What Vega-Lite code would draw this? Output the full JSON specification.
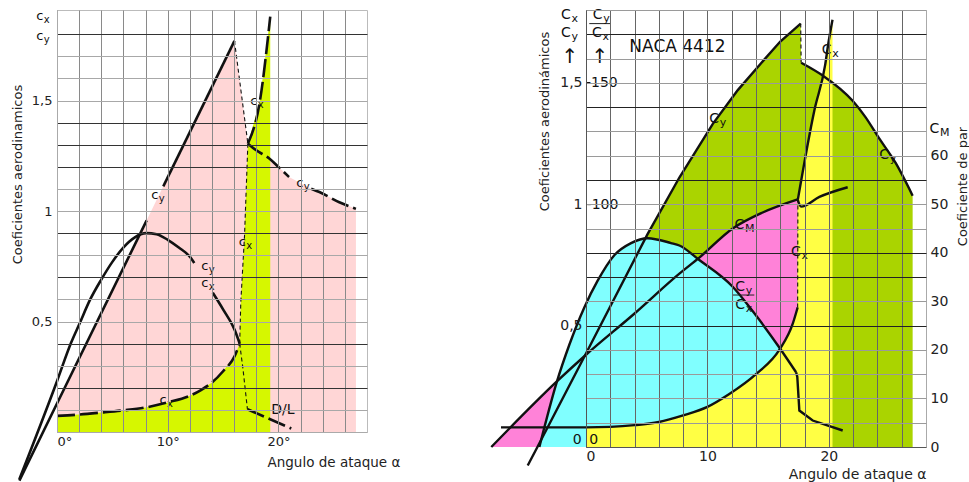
{
"$schema":"https://vega.github.io/schema/vega-lite/v6.json",
"padding":{"left":11,"top":7,"right":5,"bottom":2},
"bounds":"flush",
"spacing":219,
"background":"white",
"config":{
 "font":"DejaVu Sans",
 "axis":{"labelFont":"DejaVu Sans","titleFont":"DejaVu Sans","labelFontSize":14,"titleFontSize":13,"titleFontWeight":"normal","labelColor":"#222","titleColor":"#222","ticks":false},
 "text":{"font":"DejaVu Sans","color":"#111"}
},
"datasets":{
 "L":[
  {"q":"cy","seg":"rise1","a":-3.4,"v":-0.22},
  {"q":"cy","seg":"rise1","a":0,"v":0.129},
  {"q":"cy","seg":"rise1","a":8.1,"v":0.958},
  {"q":"cy","seg":"rise2","a":9.6,"v":1.112},
  {"q":"cy","seg":"rise2","a":16.03,"v":1.77},
  {"q":"cy","seg":"drop","a":16.03,"v":1.77},
  {"q":"cy","seg":"drop","a":17.24,"v":1.305},
  {"q":"cy","seg":"post1","a":17.24,"v":1.305},
  {"q":"cy","seg":"post1","a":18,"v":1.275},
  {"q":"cy","seg":"post1","a":19.2,"v":1.237},
  {"q":"cy","seg":"post1","a":20,"v":1.2},
  {"q":"cy","seg":"post1","a":20.96,"v":1.154},
  {"q":"cy","seg":"post2","a":22.96,"v":1.101},
  {"q":"cy","seg":"post2","a":23.7,"v":1.086},
  {"q":"cy","seg":"post2","a":25.5,"v":1.04},
  {"q":"cy","seg":"post2","a":27.0,"v":1.01},
  {"q":"cx","seg":"low","a":0,"v":0.073},
  {"q":"cx","seg":"low","a":2,"v":0.079},
  {"q":"cx","seg":"low","a":4,"v":0.088},
  {"q":"cx","seg":"low","a":6,"v":0.098},
  {"q":"cx","seg":"low","a":8,"v":0.111},
  {"q":"cx","seg":"low","a":10,"v":0.134},
  {"q":"cx","seg":"low","a":12,"v":0.164},
  {"q":"cx","seg":"low","a":13,"v":0.19},
  {"q":"cx","seg":"low","a":14,"v":0.224},
  {"q":"cx","seg":"low","a":15,"v":0.275},
  {"q":"cx","seg":"low","a":16.06,"v":0.345},
  {"q":"cx","seg":"low","a":16.5,"v":0.4},
  {"q":"cx","seg":"mid","a":16.5,"v":0.4},
  {"q":"cx","seg":"mid","a":16.6,"v":0.587},
  {"q":"cx","seg":"mid","a":16.94,"v":0.89},
  {"q":"cx","seg":"mid","a":17.24,"v":1.305},
  {"q":"cx","seg":"high","a":17.24,"v":1.305},
  {"q":"cx","seg":"high","a":18.3,"v":1.49},
  {"q":"cx","seg":"high","a":19.26,"v":1.88},
  {"q":"ld","seg":"main1","a":-3.4,"v":-0.214},
  {"q":"ld","seg":"main1","a":0,"v":0.23},
  {"q":"ld","seg":"main1","a":1.28,"v":0.405},
  {"q":"ld","seg":"main1","a":2.03,"v":0.49},
  {"q":"ld","seg":"main1","a":3,"v":0.6},
  {"q":"ld","seg":"main1","a":4,"v":0.69},
  {"q":"ld","seg":"main1","a":5,"v":0.77},
  {"q":"ld","seg":"main1","a":6.03,"v":0.837},
  {"q":"ld","seg":"main1","a":7,"v":0.88},
  {"q":"ld","seg":"main1","a":8.06,"v":0.9},
  {"q":"ld","seg":"main1","a":9,"v":0.895},
  {"q":"ld","seg":"main1","a":10,"v":0.87},
  {"q":"ld","seg":"main1","a":11,"v":0.835},
  {"q":"ld","seg":"main1","a":12.06,"v":0.79},
  {"q":"ld","seg":"main1","a":12.4,"v":0.765},
  {"q":"ld","seg":"main2","a":14.07,"v":0.63},
  {"q":"ld","seg":"main2","a":15,"v":0.555},
  {"q":"ld","seg":"main2","a":16.06,"v":0.46},
  {"q":"ld","seg":"main2","a":16.5,"v":0.4},
  {"q":"ld","seg":"mid","a":16.5,"v":0.4},
  {"q":"ld","seg":"mid","a":16.8,"v":0.285},
  {"q":"ld","seg":"mid","a":17.2,"v":0.103},
  {"q":"ld","seg":"dl","a":17.2,"v":0.103},
  {"q":"ld","seg":"dl","a":21.16,"v":0.016}
 ],
 "LL":[
  {"a":-1.88,"v":1.865,"t":"c","s":"x"},
  {"a":-1.88,"v":1.774,"t":"c","s":"y"},
  {"a":8.51,"v":1.056,"t":"c","s":"y"},
  {"a":17.45,"v":1.479,"t":"c","s":"x"},
  {"a":21.6,"v":1.109,"t":"c","s":"y"},
  {"a":16.42,"v":0.841,"t":"c","s":"x"},
  {"a":13.03,"v":0.731,"t":"c","s":"y"},
  {"a":13.03,"v":0.655,"t":"c","s":"x"},
  {"a":9.26,"v":0.126,"t":"c","s":"x"}
 ],
 "LN":[{"a":19.35,"v":0.081,"t":"D/L"}],
 "R":[
  {"q":"cy","seg":"rise","a":-4.8,"v":-0.076},
  {"q":"cy","seg":"rise","a":-4.0,"v":0},
  {"q":"cy","seg":"rise","a":0,"v":0.385},
  {"q":"cy","seg":"rise","a":5.07,"v":0.877},
  {"q":"cy","seg":"rise","a":7.69,"v":1.11},
  {"q":"cy","seg":"rise","a":10.43,"v":1.33},
  {"q":"cy","seg":"rise","a":12.5,"v":1.47},
  {"q":"cy","seg":"rise","a":14.4,"v":1.58},
  {"q":"cy","seg":"rise","a":16,"v":1.67},
  {"q":"cy","seg":"rise","a":17.68,"v":1.744},
  {"q":"cy","seg":"drop","a":17.68,"v":1.744},
  {"q":"cy","seg":"drop","a":17.72,"v":1.583},
  {"q":"cy","seg":"post","a":17.72,"v":1.583},
  {"q":"cy","seg":"post","a":19.5,"v":1.53},
  {"q":"cy","seg":"post","a":21.96,"v":1.426},
  {"q":"cy","seg":"post","a":23,"v":1.36},
  {"q":"cy","seg":"post","a":24.16,"v":1.27},
  {"q":"cy","seg":"post","a":25.5,"v":1.17},
  {"q":"cy","seg":"post","a":26.9,"v":1.035},
  {"q":"cx","seg":"main","a":-7.0,"v":0.081},
  {"q":"cx","seg":"main","a":0,"v":0.081},
  {"q":"cx","seg":"main","a":2,"v":0.083},
  {"q":"cx","seg":"main","a":4,"v":0.09},
  {"q":"cx","seg":"main","a":6,"v":0.103},
  {"q":"cx","seg":"main","a":8,"v":0.13},
  {"q":"cx","seg":"main","a":10,"v":0.165},
  {"q":"cx","seg":"main","a":11.8,"v":0.218},
  {"q":"cx","seg":"main","a":14,"v":0.3},
  {"q":"cx","seg":"main","a":15.92,"v":0.4},
  {"q":"cx","seg":"main","a":17.02,"v":0.507},
  {"q":"cx","seg":"main","a":17.43,"v":0.575},
  {"q":"cx","seg":"vert","a":17.43,"v":0.575},
  {"q":"cx","seg":"vert","a":17.45,"v":1.02},
  {"q":"cx","seg":"high","a":17.45,"v":1.02},
  {"q":"cx","seg":"high","a":18.8,"v":1.385},
  {"q":"cx","seg":"high","a":19.7,"v":1.575},
  {"q":"cx","seg":"high","a":19.95,"v":1.66},
  {"q":"cx","seg":"high","a":20.3,"v":1.76},
  {"q":"ld","seg":"main","a":-3.84,"v":0},
  {"q":"ld","seg":"main","a":-2.39,"v":0.27},
  {"q":"ld","seg":"main","a":-1.38,"v":0.42},
  {"q":"ld","seg":"main","a":-0.14,"v":0.575},
  {"q":"ld","seg":"main","a":0.96,"v":0.685},
  {"q":"ld","seg":"main","a":2.33,"v":0.79},
  {"q":"ld","seg":"main","a":3.71,"v":0.84},
  {"q":"ld","seg":"main","a":5.08,"v":0.86},
  {"q":"ld","seg":"main","a":7.0,"v":0.84},
  {"q":"ld","seg":"main","a":7.69,"v":0.83},
  {"q":"ld","seg":"main","a":9.33,"v":0.77},
  {"q":"ld","seg":"main","a":12.08,"v":0.66},
  {"q":"ld","seg":"main","a":13.72,"v":0.56},
  {"q":"ld","seg":"main","a":15.92,"v":0.41},
  {"q":"ld","seg":"main","a":17.3,"v":0.308},
  {"q":"ld","seg":"tail","a":17.3,"v":0.308},
  {"q":"ld","seg":"tail","a":17.4,"v":0.29},
  {"q":"ld","seg":"tail","a":17.57,"v":0.15},
  {"q":"ld","seg":"tail","a":18.67,"v":0.109},
  {"q":"ld","seg":"tail","a":21.14,"v":0.068}
 ],
 "M":[
  {"seg":"pre","a":-7.8,"cm":0},
  {"seg":"pre","a":-2.4,"cm":13.5},
  {"seg":"pre","a":0,"cm":19},
  {"seg":"pre","a":4,"cm":27.5},
  {"seg":"pre","a":7.69,"cm":35.7},
  {"seg":"pre","a":9.33,"cm":39},
  {"seg":"pre","a":12.08,"cm":45},
  {"seg":"pre","a":14.55,"cm":48.3},
  {"seg":"pre","a":17.43,"cm":51},
  {"seg":"post","a":17.43,"cm":51},
  {"seg":"post","a":17.71,"cm":49.5},
  {"seg":"post","a":19.22,"cm":51.5},
  {"seg":"post","a":21.55,"cm":53.5}
 ],
 "RL":[
  {"a":-2.06,"v":1.762,"t":"C","s":"x"},
  {"a":-2.06,"v":1.689,"t":"C","s":"y"},
  {"a":0.55,"v":1.762,"t":"C","s":"y"},
  {"a":0.49,"v":1.689,"t":"C","s":"x"},
  {"a":10.16,"v":1.333,"t":"C","s":"y"},
  {"a":19.41,"v":1.62,"t":"C","s":"x"},
  {"a":24.16,"v":1.186,"t":"C","s":"y"},
  {"a":12.22,"v":0.898,"t":"C","s":"M"},
  {"a":16.89,"v":0.788,"t":"C","s":"x"},
  {"a":12.3,"v":0.644,"t":"C","s":"y"},
  {"a":12.3,"v":0.569,"t":"C","s":"x"},
  {"a":28.28,"v":1.295,"t":"C","s":"M"}
 ],
 "RN":[
  {"a":3.57,"v":1.625,"t":"NACA 4412","k":"name"},
  {"a":0.0,"v":1.484,"t":"-150","k":"scale"},
  {"a":0.05,"v":0.98,"t":"-100","k":"scale"},
  {"a":0.27,"v":0.013,"t":"0","k":"scale"},
  {"a":-0.36,"v":0.013,"t":"0","k":"scaleL"},
  {"a":-1.32,"v":1.58,"t":"↑","k":"arrow"},
  {"a":1.15,"v":1.58,"t":"↑","k":"arrow"}
 ],
 "RB":[
  {"a":0.27,"a2":1.98,"v":1.744},
  {"a":12.08,"a2":13.86,"v":0.626}
 ]
},
"hconcat":[
 {
  "width":310,"height":422,
  "view":{"stroke":"#bbb"},
  "encoding":{
   "x":{"field":"a","type":"quantitative","scale":{"domain":[0,28],"nice":false,"zero":false},
    "axis":{"values":[0,2,4,6,8,10,12,14,16,18,20,22,24,26],"labelExpr":"datum.value % 10 === 0 ? datum.value + '°' : ''","grid":true,"gridColor":"#8a8a8a","zindex":1,"domainColor":"#aaa","labelPadding":3,"labelFontSize":13,"title":"Angulo de ataque α","titleFontSize":13.5,"titleX":210,"titleY":30,"titleAlign":"left","titleBaseline":"middle"}},
   "y":{"field":"v","type":"quantitative","stack":null,"scale":{"domain":[0,1.91],"nice":false,"zero":false},
    "axis":{"values":[0.1,0.2,0.3,0.4,0.5,0.6,0.7,0.8,0.9,1,1.1,1.2,1.3,1.4,1.5,1.6,1.7,1.8],"labelExpr":"datum.value === 0.5 ? '0,5' : datum.value === 1 ? '1' : datum.value === 1.5 ? '1,5' : ''","grid":true,"gridColor":{"condition":{"test":"indexof([1.8,1.4,1.3,1.2,0.9,0.7,0.4,0.2], datum.value) >= 0","value":"#333"},"value":"#a8a8a8"},"zindex":1,"domainColor":"#aaa","labelPadding":5,"labelFontSize":13,"title":"Coeficientes aerodinamicos","titleX":-39.5,"titleY":164,"titleAngle":270,"titleAlign":"center","titleBaseline":"middle"}}
  },
  "layer":[
   {"data":{"name":"L"},"transform":[{"filter":"datum.q == 'cy' && datum.a >= 0"}],"mark":{"type":"area","color":"#ffd6d6"}},
   {"data":{"name":"L"},"transform":[{"filter":"datum.q == 'cx'"}],"mark":{"type":"area","color":"#d6f700"}},
   {"data":{"name":"L"},"transform":[{"filter":"indexof(['rise1','rise2'], datum.seg) >= 0"}],"mark":{"type":"line","color":"#111","strokeWidth":2.6},"encoding":{"detail":[{"field":"q"},{"field":"seg"}]}},
   {"data":{"name":"L"},"transform":[{"filter":"indexof(['main1','main2'], datum.seg) >= 0"}],"mark":{"type":"line","color":"#111","strokeWidth":2.6,"interpolate":"monotone"},"encoding":{"detail":[{"field":"q"},{"field":"seg"}]}},
   {"data":{"name":"L"},"transform":[{"filter":"indexof(['post1','post2','low','high'], datum.seg) >= 0"}],"mark":{"type":"line","color":"#111","strokeWidth":2.6,"strokeDash":[18,5],"interpolate":"monotone"},"encoding":{"detail":[{"field":"q"},{"field":"seg"}]}},
   {"data":{"name":"L"},"transform":[{"filter":"datum.seg == 'dl'"}],"mark":{"type":"line","color":"#111","strokeWidth":2.6,"strokeDash":[18,5]},"encoding":{"detail":[{"field":"q"},{"field":"seg"}]}},
   {"data":{"name":"L"},"transform":[{"filter":"indexof(['drop','mid'], datum.seg) >= 0"}],"mark":{"type":"line","color":"#111","strokeWidth":1.1,"strokeDash":[4,3]},"encoding":{"detail":[{"field":"q"},{"field":"seg"}]}},
   {"data":{"name":"LL"},"mark":{"type":"text","align":"left","baseline":"alphabetic","fontSize":13},"encoding":{"text":{"field":"t"}}},
   {"data":{"name":"LL"},"mark":{"type":"text","align":"left","baseline":"alphabetic","fontSize":10,"dx":7.5,"dy":3},"encoding":{"text":{"field":"s"}}},
   {"data":{"name":"LN"},"mark":{"type":"text","align":"left","baseline":"alphabetic","fontSize":14},"encoding":{"text":{"field":"t"}}}
  ]
 },
 {
  "width":340,"height":437,
  "view":{"stroke":"#aaa"},
  "encoding":{
   "x":{"field":"a","type":"quantitative","scale":{"domain":[0,28],"nice":false,"zero":false},
    "axis":{"values":[0,2,4,6,8,10,12,14,16,18,20,22,24,26],"labelExpr":"datum.value % 10 === 0 ? datum.label : ''","grid":true,"gridColor":"#666","zindex":1,"domainColor":"#555","labelPadding":2,"title":"Angulo de ataque α","titleX":340,"titleY":27,"titleAlign":"right","titleBaseline":"middle","titleFontSize":14}}
  },
  "layer":[
   {"data":{"name":"R"},"transform":[{"filter":"datum.q == 'cy' && datum.v >= 0"}],"mark":{"type":"area","color":"#aad400"},
    "encoding":{"y":{"field":"v","type":"quantitative","stack":null,"scale":{"domain":[0,1.8],"nice":false,"zero":false},
     "axis":{"values":[0.1,0.2,0.3,0.4,0.5,0.6,0.7,0.8,0.9,1,1.1,1.2,1.3,1.4,1.5,1.6,1.7,1.8],"labelExpr":"datum.value === 0.5 ? '0,5' : datum.value === 1 ? '1' : datum.value === 1.5 ? '1,5' : ''","grid":true,"gridColor":{"condition":{"test":"indexof([1.7,1.4,1.1,0.8,0.7,0.5], datum.value) >= 0","value":"#222"},"value":"#9a9a9a"},"zindex":1,"domainColor":"#555","labelPadding":4,"title":"Coeficientes aerodinámicos","titleX":-42,"titleY":111,"titleAngle":270,"titleAlign":"center","titleBaseline":"middle"}}}},
   {"data":{"name":"M"},"transform":[{"filter":"datum.seg == 'pre'"}],"mark":{"type":"area","color":"#ff82d8","interpolate":"monotone"},
    "encoding":{"y":{"field":"cm","type":"quantitative","stack":null,"scale":{"domain":[0,90],"nice":false,"zero":false},"axis":null}}},
   {
    "encoding":{"y":{"field":"v","type":"quantitative","stack":null,"scale":{"domain":[0,1.8],"nice":false,"zero":false},"axis":null}},
    "layer":[
     {"data":{"name":"R"},"transform":[{"filter":"datum.q == 'ld' && datum.seg == 'main'"}],"mark":{"type":"area","color":"#80ffff","interpolate":"monotone"}},
     {"data":{"name":"R"},"transform":[{"filter":"datum.q == 'cx' && datum.a >= 0"}],"mark":{"type":"area","color":"#ffff44"}},
     {"mark":{"type":"rule","color":"#555","strokeWidth":1},"encoding":{"x":{"datum":-8},"x2":{"datum":0},"y":{"datum":0}}},
     {"data":{"name":"R"},"transform":[{"filter":"datum.seg == 'rise' || datum.seg == 'tail'"}],"mark":{"type":"line","color":"#111","strokeWidth":2.4},"encoding":{"detail":[{"field":"q"},{"field":"seg"}]}},
     {"data":{"name":"R"},"transform":[{"filter":"indexof(['post','main','high'], datum.seg) >= 0"}],"mark":{"type":"line","color":"#111","strokeWidth":2.4,"interpolate":"monotone"},"encoding":{"detail":[{"field":"q"},{"field":"seg"}]}},
     {"data":{"name":"R"},"transform":[{"filter":"datum.seg == 'drop' || datum.seg == 'vert'"}],"mark":{"type":"line","color":"#111","strokeWidth":1.1,"strokeDash":[4,3]},"encoding":{"detail":[{"field":"q"},{"field":"seg"}]}},
     {"data":{"name":"RB"},"mark":{"type":"rule","color":"#222","strokeWidth":1},"encoding":{"x2":{"field":"a2"}}},
     {"data":{"name":"RL"},"mark":{"type":"text","align":"left","baseline":"alphabetic","fontSize":14},"encoding":{"text":{"field":"t"}}},
     {"data":{"name":"RL"},"mark":{"type":"text","align":"left","baseline":"alphabetic","fontSize":11,"dx":10.5,"dy":3},"encoding":{"text":{"field":"s"}}},
     {"data":{"name":"RN"},"transform":[{"filter":"datum.k == 'name'"}],"mark":{"type":"text","align":"left","baseline":"alphabetic","fontSize":17},"encoding":{"text":{"field":"t"}}},
     {"data":{"name":"RN"},"transform":[{"filter":"datum.k == 'scale'"}],"mark":{"type":"text","align":"left","baseline":"alphabetic","fontSize":14},"encoding":{"text":{"field":"t"}}},
     {"data":{"name":"RN"},"transform":[{"filter":"datum.k == 'scaleL'"}],"mark":{"type":"text","align":"right","baseline":"alphabetic","fontSize":14},"encoding":{"text":{"field":"t"}}},
     {"data":{"name":"RN"},"transform":[{"filter":"datum.k == 'arrow'"}],"mark":{"type":"text","align":"center","baseline":"alphabetic","fontSize":20},"encoding":{"text":{"field":"t"}}}
    ]
   },
   {"data":{"name":"M"},"mark":{"type":"line","color":"#111","strokeWidth":2.4,"interpolate":"monotone"},
    "encoding":{"detail":{"field":"seg"},"y":{"field":"cm","type":"quantitative","scale":{"domain":[0,90],"nice":false,"zero":false},
     "axis":{"orient":"right","values":[0,10,20,30,40,50,60],"grid":false,"domain":false,"labelPadding":4,"title":"Coeficiente de par","titleAngle":270,"titleX":36,"titleY":176,"titleAlign":"center","titleBaseline":"middle"}}}}
  ],
  "resolve":{"scale":{"y":"independent"}}
 }
]
}
